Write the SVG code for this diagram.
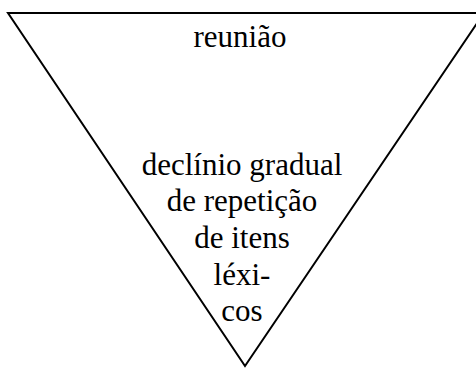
<svg xmlns="http://www.w3.org/2000/svg" width="476" height="368" viewBox="0 0 476 368">
<style>
text{font-family:'Liberation Serif','Times New Roman','DejaVu Serif',serif;font-size:31px;fill:#000;text-anchor:middle}
</style>
<rect width="476" height="368" fill="#fff"/>
<g id="triangle">
<polygon points="8,13 484,13 245,366" fill="none" stroke="#000" stroke-width="2" stroke-linejoin="miter"/>
</g>
<g id="labels" font-family="Liberation Serif, Times New Roman, serif">
<text x="240" y="47">reunião</text>
<text x="242" y="175">declínio gradual</text>
<text x="242" y="211">de repetição</text>
<text x="242" y="248">de itens</text>
<text x="242" y="285">léxi-</text>
<text x="242" y="321">cos</text>
</g>
</svg>
